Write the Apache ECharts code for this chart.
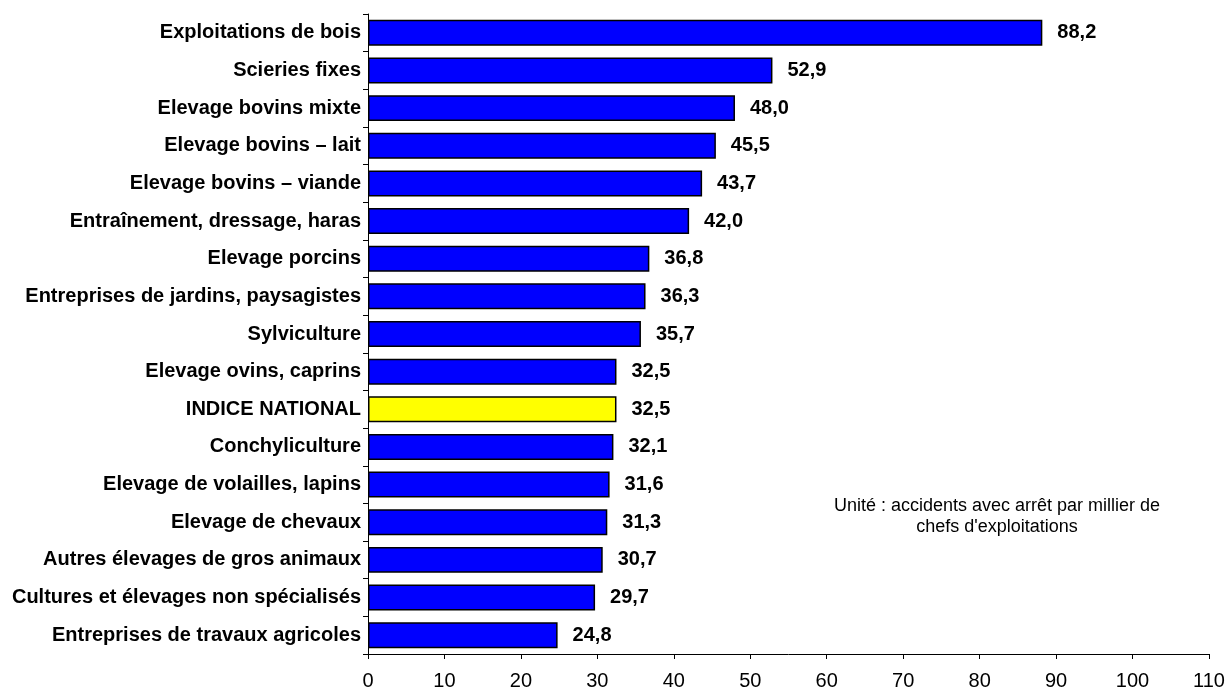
<!DOCTYPE html>
<html>
<head>
<meta charset="utf-8">
<script src="https://cdn.jsdelivr.net/npm/echarts@6/dist/echarts.min.js"></script>
<style>
  html, body { margin: 0; padding: 0; background: #ffffff; }
  #view { width: 1229px; height: 688px; }
</style>
</head>
<body>
<div id="view"></div>
<script>
// categories, top to bottom
const categories = [
  "Exploitations de bois",
  "Scieries fixes",
  "Elevage bovins mixte",
  "Elevage bovins \u2013 lait",
  "Elevage bovins \u2013 viande",
  "Entraînement, dressage, haras",
  "Elevage porcins",
  "Entreprises de jardins, paysagistes",
  "Sylviculture",
  "Elevage ovins, caprins",
  "INDICE NATIONAL",
  "Conchyliculture",
  "Elevage de volailles, lapins",
  "Elevage de chevaux",
  "Autres élevages de gros animaux",
  "Cultures et élevages non spécialisés",
  "Entreprises de travaux agricoles",
];
const values = [88.2, 52.9, 48.0, 45.5, 43.7, 42.0, 36.8, 36.3, 35.7, 32.5, 32.5, 32.1, 31.6, 31.3, 30.7, 29.7, 24.8];
const highlighted = "INDICE NATIONAL";
const unitText = "Unité : accidents avec arrêt par millier de\nchefs d'exploitations";

let myChart = echarts.init(document.getElementById("view"), null, { renderer: "canvas" });

let seriesData = values.map((v, i) => {
  let item = { value: v };
  if (categories[i] == highlighted) {
    item.itemStyle = { color: "#ffff00" };
  }
  return item;
});

let option = {
  backgroundColor: "#ffffff",
  animation: false,
  textStyle: { fontFamily: "Liberation Sans, Arial, sans-serif" },
  grid: {
    left: 368,
    right: 20,
    top: 14,
    bottom: 34,
    outerBoundsMode: "none",
    containLabel: false,
  },
  graphic: [
    {
      type: "text",
      x: 997,
      y: 496,
      style: {
        text: unitText,
        textAlign: "center",
        textVerticalAlign: "top",
        fill: "#000000",
        fontSize: 18,
        fontFamily: "Liberation Sans, Arial, sans-serif",
        lineHeight: 21,
      },
    },
  ],
  xAxis: {
    type: "value",
    min: 0,
    max: 110,
    interval: 10,
    splitLine: { show: false },
    axisLine: { show: true, lineStyle: { color: "#000000", width: 1 } },
    axisTick: { show: true, length: 5, lineStyle: { color: "#000000" } },
    axisLabel: { color: "#000000", fontSize: 20, margin: 17 },
  },
  yAxis: {
    type: "category",
    inverse: true,
    data: categories,
    axisLine: { show: true, lineStyle: { color: "#000000", width: 1 } },
    axisTick: { show: true, length: 5, lineStyle: { color: "#000000" } },
    axisLabel: { color: "#000000", fontSize: 20, fontWeight: "bold", margin: 7 },
  },
  series: [
    {
      type: "bar",
      data: seriesData,
      barCategoryGap: "31%",
      itemStyle: { color: "#0000ff", borderColor: "#000000", borderWidth: 1.5 },
      label: {
        show: true,
        position: "right",
        distance: 15,
        color: "#000000",
        fontSize: 20,
        fontWeight: "bold",
        formatter: (p) => p.value.toFixed(1).replace(".", ","),
      },
    },
  ],
};
myChart.setOption(option);
</script>
</body>
</html>
